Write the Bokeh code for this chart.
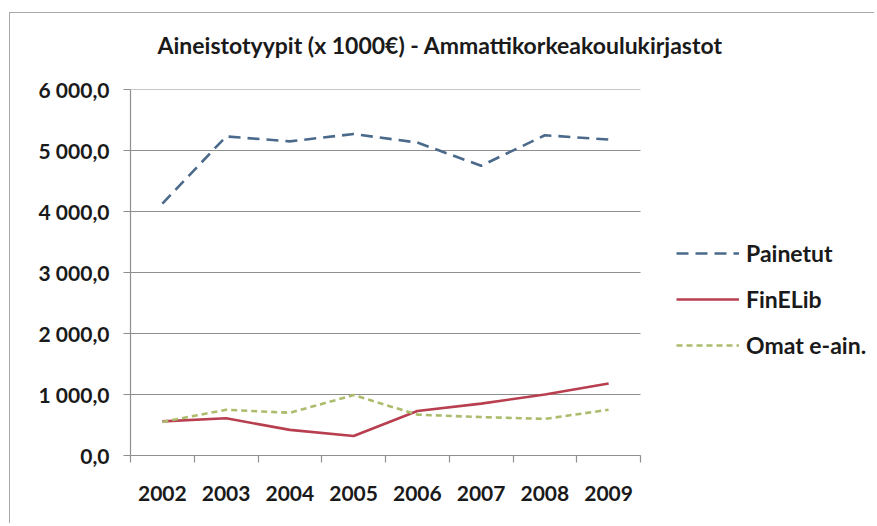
import numpy as np
from bokeh.plotting import figure
from bokeh.layouts import column
from bokeh.models import FixedTicker, Legend, LegendItem, ColumnDataSource, Title
from bokeh.embed import file_html
from bokeh.resources import INLINE

# ---- data ----
years = ["2002", "2003", "2004", "2005", "2006", "2007", "2008", "2009"]
painetut = [4130, 5230, 5150, 5270, 5130, 4750, 5250, 5180]
finelib = [560, 610, 420, 320, 730, 850, 1000, 1180]
omat = [550, 750, 700, 990, 670, 630, 600, 750]
y_ticks = [0, 1000, 2000, 3000, 4000, 5000, 6000]
y_tick_labels = ["0,0", "1 000,0", "2 000,0", "3 000,0", "4 000,0", "5 000,0", "6 000,0"]
series_names = ["Painetut", "FinELib", "Omat e-ain."]
title_text = "Aineistotyypit (x 1000€) - Ammattikorkeakoulukirjastot"

FONT = "Lato"
GRID = "#8f8f8f"
TEXT = "#1a1a1a"

# layout (pixels)
W, H = 864, 510
LEFT, TOP, BOTTOM = 120, 76, 68
PLOT_W = 510                     # width of the visible plotting area
frame_w = W - LEFT

n = len(years)
x_end = n * frame_w / PLOT_W     # frame extends under the legend
xpos = np.arange(n) + 0.5
src = ColumnDataSource(dict(x=xpos, painetut=painetut, finelib=finelib, omat=omat))

p = figure(width=W, height=H, output_backend="svg", toolbar_location=None,
           title=None,
           x_range=(0, x_end), y_range=(y_ticks[0], y_ticks[-1]),
           min_border_left=LEFT, min_border_right=0, min_border_top=TOP,
           min_border_bottom=BOTTOM)
p.outline_line_color = None
p.background_fill_color = "white"
p.border_fill_color = "white"

# spacer (closest to the frame) then the real title above it
p.add_layout(Title(text=" ", text_font_size="2px", standoff=27), "above")
p.add_layout(Title(text=title_text, align="left", offset=27, standoff=0,
                   text_font=FONT, text_font_style="bold", text_font_size="23px",
                   text_color=TEXT), "above")

# x axis: labels at centres, tick marks at category boundaries
xa = p.xaxis[0]
xa.bounds = (0, n)
xa.ticker = FixedTicker(ticks=list(xpos), minor_ticks=list(range(n + 1)))
xa.major_label_overrides = {float(v): lab for v, lab in zip(xpos, years)}
xa.major_tick_line_color = None
xa.minor_tick_line_color = GRID
xa.minor_tick_out = 7
xa.minor_tick_in = 0
xa.axis_line_color = GRID
xa.axis_line_width = 1.2
xa.minor_tick_line_width = 1.2
xa.major_label_text_font = FONT
xa.major_label_text_font_style = "bold"
xa.major_label_text_font_size = "21px"
xa.major_label_text_color = TEXT
xa.major_label_standoff = 23

ya = p.yaxis[0]
ya.ticker = FixedTicker(ticks=y_ticks, minor_ticks=[])
ya.major_label_overrides = {v: lab for v, lab in zip(y_ticks, y_tick_labels)}
ya.major_tick_line_color = GRID
ya.major_tick_out = 7
ya.major_tick_in = 0
ya.major_tick_line_width = 1.2
ya.axis_line_color = GRID
ya.axis_line_width = 1.2
ya.major_label_text_font = FONT
ya.major_label_text_font_style = "bold"
ya.major_label_text_font_size = "21px"
ya.major_label_text_color = TEXT
ya.major_label_standoff = 14

# horizontal gridlines limited to the plotting area
p.xgrid.grid_line_color = None
p.ygrid.grid_line_color = None
p.segment(x0=[0] * len(y_ticks), x1=[n] * len(y_ticks), y0=y_ticks, y1=y_ticks,
          line_color=GRID, line_width=1.2)

r1 = p.line("x", "painetut", source=src, line_color="#4b6a8b", line_width=2.6,
            line_dash="12 7", line_join="round")
r2 = p.line("x", "finelib", source=src, line_color="#b83f4f", line_width=2.6,
            line_join="round")
r3 = p.line("x", "omat", source=src, line_color="#abbd6c", line_width=2.6,
            line_dash="6 4", line_join="round")

legend = Legend(items=[LegendItem(label=series_names[0], renderers=[r1]),
                       LegendItem(label=series_names[1], renderers=[r2]),
                       LegendItem(label=series_names[2], renderers=[r3])],
                location=(546, 96), orientation="vertical",
                glyph_width=63, glyph_height=20, label_height=20, label_standoff=7,
                spacing=18, padding=0, margin=0,
                border_line_color=None, background_fill_alpha=0,
                label_text_font=FONT, label_text_font_style="bold",
                label_text_font_size="23px", label_text_color=TEXT)
p.add_layout(legend, "center")

layout = column(p, margin=(12, 0, 0, 9),
                styles={"border-left": "1.5px solid #a8a8a8",
                        "border-top": "1.5px solid #a8a8a8"})

open("out.html", "w").write(file_html(layout, INLINE))
